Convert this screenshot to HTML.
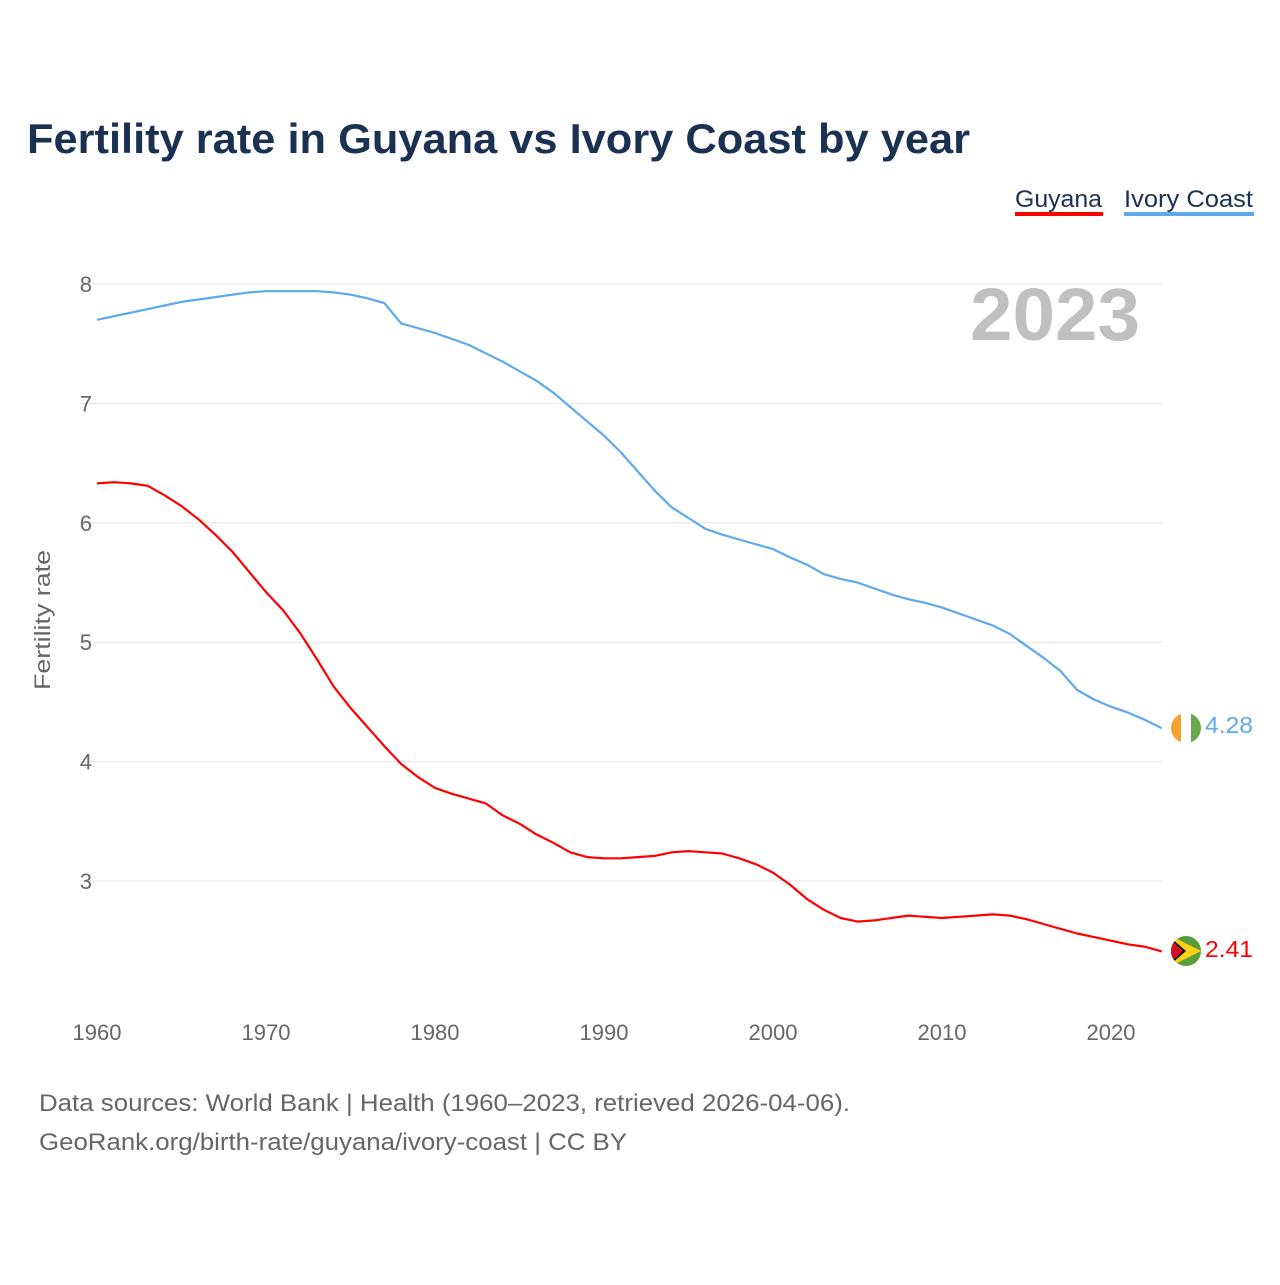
<!DOCTYPE html>
<html><head><meta charset="utf-8">
<style>
body{margin:0;background:#fff;width:1280px;height:1280px;overflow:hidden;font-family:"Liberation Sans",sans-serif;}
svg text{font-family:"Liberation Sans",sans-serif;}
</style></head>
<body>
<svg id="chart" width="1280" height="1280" xmlns="http://www.w3.org/2000/svg">
<text x="27" y="153" font-size="42" font-weight="bold" fill="#1b3152" textLength="943" lengthAdjust="spacingAndGlyphs">Fertility rate in Guyana vs Ivory Coast by year</text>
<g>
<g><text x="1015" y="207" font-size="24" fill="#1b3152" textLength="87" lengthAdjust="spacingAndGlyphs">Guyana</text><rect x="1015" y="212" width="88" height="4" fill="#ff0000"/></g>
<g><text x="1124" y="207" font-size="24" fill="#1b3152" textLength="129" lengthAdjust="spacingAndGlyphs">Ivory Coast</text><rect x="1124" y="212" width="130" height="4" fill="#5ea8ee"/></g>
</g>
<text x="1140" y="340" font-size="74" font-weight="bold" fill="#c0c0c0" text-anchor="end" textLength="170" lengthAdjust="spacingAndGlyphs">2023</text>
<text transform="translate(50,620) rotate(-90)" font-size="22" fill="#666" text-anchor="middle" textLength="140" lengthAdjust="spacingAndGlyphs">Fertility rate</text>
<g id="grid"></g><g id="series"></g>
<g>
<clipPath id="c1"><circle cx="1186" cy="728" r="15"/></clipPath>
<g clip-path="url(#c1)"><rect x="1171" y="713" width="10" height="30" fill="#f7a030"/><rect x="1181" y="713" width="10" height="30" fill="#fff"/><rect x="1191" y="713" width="10" height="30" fill="#6aa84f"/></g></g>
<g>
<clipPath id="c2"><circle cx="1186" cy="951" r="15"/></clipPath>
<g clip-path="url(#c2)"><rect x="1171" y="936" width="30" height="30" fill="#5a9e3c"/><polygon points="1171,936 1201,951 1171,966" fill="#fcd116"/><polygon points="1171,938 1186,951 1171,964" fill="#111"/><polygon points="1171,940 1183,951 1171,962" fill="#ce1126"/></g></g>
<text x="1205" y="733" font-size="23" fill="#5ea8ee" textLength="48" lengthAdjust="spacingAndGlyphs">4.28</text>
<text x="1205" y="957" font-size="23" fill="#ff0000" textLength="48" lengthAdjust="spacingAndGlyphs">2.41</text>
<text x="39" y="1111" font-size="24" fill="#666" textLength="811" lengthAdjust="spacingAndGlyphs">Data sources: World Bank | Health (1960–2023, retrieved 2026-04-06).</text>
<text x="39" y="1150" font-size="24" fill="#666" textLength="588" lengthAdjust="spacingAndGlyphs">GeoRank.org/birth-rate/guyana/ivory-coast | CC BY</text>
</svg>
<script>
const years=[];for(let y=1960;y<=2023;y++)years.push(y);
const ivoryCoast=[7.70,7.73,7.76,7.79,7.82,7.85,7.87,7.89,7.91,7.93,7.94,7.94,7.94,7.94,7.93,7.91,7.88,7.84,7.67,7.63,7.59,7.54,7.49,7.42,7.35,7.27,7.19,7.09,6.97,6.85,6.73,6.59,6.43,6.27,6.13,6.04,5.95,5.90,5.86,5.82,5.78,5.71,5.65,5.57,5.53,5.50,5.45,5.40,5.36,5.33,5.29,5.24,5.19,5.14,5.07,4.97,4.87,4.76,4.60,4.52,4.46,4.41,4.35,4.28];
const guyana=[6.33,6.34,6.33,6.31,6.23,6.14,6.03,5.90,5.76,5.59,5.42,5.27,5.08,4.86,4.63,4.45,4.29,4.13,3.98,3.87,3.78,3.73,3.69,3.65,3.55,3.48,3.39,3.32,3.24,3.20,3.19,3.19,3.20,3.21,3.24,3.25,3.24,3.23,3.19,3.14,3.07,2.97,2.85,2.76,2.69,2.66,2.67,2.69,2.71,2.70,2.69,2.70,2.71,2.72,2.71,2.68,2.64,2.60,2.56,2.53,2.50,2.47,2.45,2.41];
const yTicks=[3,4,5,6,7,8];
const xTicks=[1960,1970,1980,1990,2000,2010,2020];
const NS="http://www.w3.org/2000/svg";
const xs=y=>97+(y-1960)*(1111-97)/60;
const ys=v=>881-(v-3)*(881-284)/5;
const grid=document.getElementById('grid'),ser=document.getElementById('series');
function mk(t,a,p){const e=document.createElementNS(NS,t);for(const k in a)e.setAttribute(k,a[k]);p.appendChild(e);return e;}
yTicks.forEach(v=>{
 const l=mk('line',{x1:80,x2:1162,y1:ys(v),y2:ys(v),stroke:'#e6e6e6','stroke-width':1},grid);
 
 
 const t=mk('text',{x:92,y:ys(v)+8,'font-size':22,fill:'#666','text-anchor':'end'},grid);t.textContent=v;
 
 
});
xTicks.forEach(v=>{
 const t=mk('text',{x:xs(v),y:1040,'font-size':22,fill:'#666','text-anchor':'middle'},grid);t.textContent=v;
 
 
});
function line(d,c,n){
 const p=mk('path',{d:d.map((v,i)=>(i?'L':'M')+xs(years[i]).toFixed(1)+','+ys(v).toFixed(1)).join(''),fill:'none',stroke:c,'stroke-width':2.2,'stroke-linejoin':'round'},ser);
 
 
}
line(ivoryCoast,'#5ea8ee','ivory-coast-line');
line(guyana,'#ff0000','guyana-line');
</script>
</body></html>
